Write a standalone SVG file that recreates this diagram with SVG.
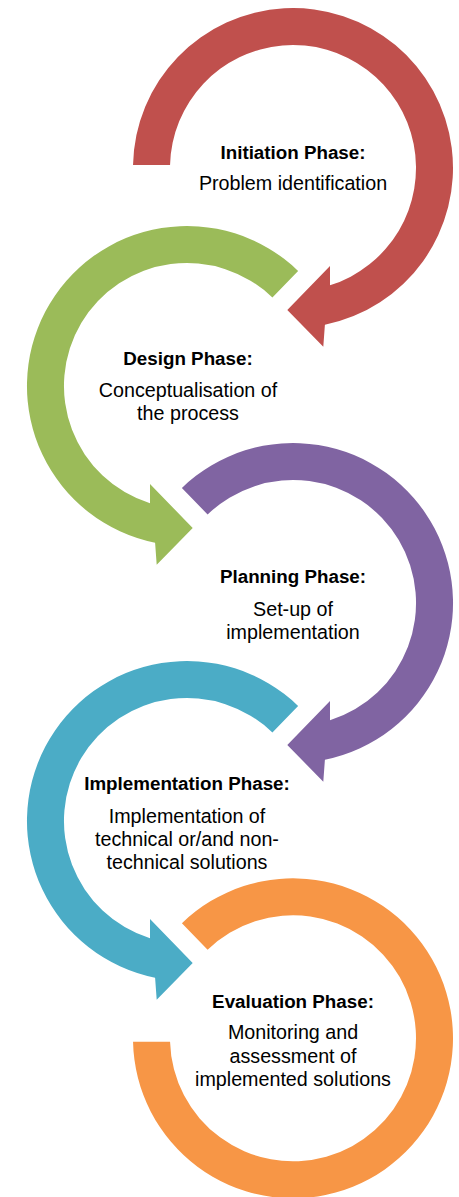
<svg xmlns="http://www.w3.org/2000/svg" xmlns:xlink="http://www.w3.org/1999/xlink" width="459" height="1197" viewBox="0 0 459 1197">
<style>
  .t { font-family: "Liberation Sans", Arial, sans-serif; font-size: 19.7px; fill: #000; text-anchor: middle; }
  .b { font-weight: bold; font-size: 18.8px; }
</style>
<defs>
  <path id="arrowP" d="M -111.1,-115.1 A 160 160 0 1 1 31.9,156.8 L 30.3,178.7 L -5.7,142 L 37,98 L 37,117.3 A 123 123 0 1 0 -85.4,-88.5 Z"/>
</defs>
<rect width="459" height="1197" fill="#fff"/>
<g id="connectors"></g>
<g id="initiation">
  <path transform="translate(293,168)" fill="#C0504D" d="M -159.97,-3 A 160 160 0 1 1 31.9,156.8 L 30.3,178.7 L -5.7,142 L 37,98 L 37,117.3 A 123 123 0 1 0 -122.96,-3 Z"/>
  <text class="t b" x="293" y="159">Initiation Phase:</text>
  <text class="t" x="293" y="190">Problem identification</text>
</g>
<g id="design">
  <use xlink:href="#arrowP" href="#arrowP" transform="translate(187,386) scale(-1,1)" fill="#9BBB59"/>
  <text class="t b" x="188" y="365">Design Phase:</text>
  <text class="t" x="188" y="397">Conceptualisation of</text>
  <text class="t" x="188" y="420">the process</text>
</g>
<g id="planning">
  <use xlink:href="#arrowP" href="#arrowP" transform="translate(293,603)" fill="#8064A2"/>
  <text class="t b" x="293" y="583">Planning Phase:</text>
  <text class="t" x="293" y="616">Set-up of</text>
  <text class="t" x="293" y="638.5">implementation</text>
</g>
<g id="implementation">
  <use xlink:href="#arrowP" href="#arrowP" transform="translate(187,821) scale(-1,1)" fill="#4BACC6"/>
  <text class="t b" x="187" y="789.5">Implementation Phase:</text>
  <text class="t" x="187" y="822.5">Implementation of</text>
  <text class="t" x="187" y="845.5">technical or/and non-</text>
  <text class="t" x="187" y="868.5">technical solutions</text>
</g>
<g id="evaluation">
  <path transform="translate(293,1038.3)" fill="#F79646" d="M -159.96,3.4 A 160 160 0 1 0 -111.1,-115.1 L -85.4,-88.5 A 123 123 0 1 1 -122.95,3.4 Z"/>
  <text class="t b" x="293" y="1007.5">Evaluation Phase:</text>
  <text class="t" x="293" y="1038.5">Monitoring and</text>
  <text class="t" x="293" y="1062.5">assessment of</text>
  <text class="t" x="293" y="1086">implemented solutions</text>
</g>
</svg>
